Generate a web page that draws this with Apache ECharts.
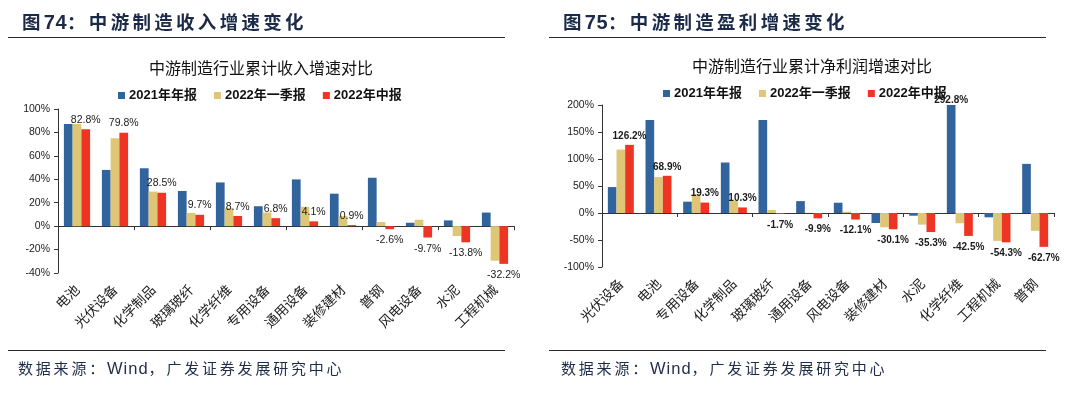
<!DOCTYPE html>
<html>
<head>
<meta charset="utf-8">
<script src="https://cdn.jsdelivr.net/npm/echarts@6/dist/echarts.min.js"></script>
<style>
  html, body { margin: 0; padding: 0; background: #fff; }
  #wrap { position: relative; width: 1080px; height: 393px; overflow: hidden; }
  #chart { position: absolute; left: 0; top: 0; width: 1080px; height: 393px; }
  .head { position: absolute; top: 9px; font-family: "Noto Sans CJK SC", sans-serif; font-weight: bold; font-size: 18.5px; letter-spacing: 3.3px; color: #1b2a49; line-height: 24px; white-space: nowrap; }
  .head .num { font-family: "Liberation Sans", Arial, sans-serif; font-size: 20px; letter-spacing: 0.5px; }
  .rule { position: absolute; height: 0; border-top: 1.5px solid #2a2a2a; }
  .src { position: absolute; top: 357px; font-family: "Noto Sans CJK SC", sans-serif; font-size: 15px; letter-spacing: 2.8px; color: #1f2d4a; line-height: 22px; white-space: nowrap; }
  .src .en { font-family: "Liberation Sans", Arial, sans-serif; font-size: 16.5px; letter-spacing: 1px; }
</style>
</head>
<body>
<div id="wrap">
  <div id="chart"></div>
  <div class="head" style="left:22px;">图<span class="num">74</span>：中游制造收入增速变化</div>
  <div class="head" style="left:563px;">图<span class="num">75</span>：中游制造盈利增速变化</div>
  <div class="rule" style="left:8px; width:497px; top:37px;"></div>
  <div class="rule" style="left:549px; width:497px; top:37px;"></div>
  <div class="rule" style="left:8px; width:497px; top:350px;"></div>
  <div class="rule" style="left:549px; width:497px; top:350px;"></div>
  <div class="src" style="left:18px;">数据来源：<span class="en">Wind</span>，广发证券发展研究中心</div>
  <div class="src" style="left:561px;">数据来源：<span class="en">Wind</span>，广发证券发展研究中心</div>
</div>
<script>
// ---- Data: left chart (revenue growth, %) ----
const revTitle = '中游制造行业累计收入增速对比';
const revCats = ['电池', '光伏设备', '化学制品', '玻璃玻纤', '化学纤维', '专用设备', '通用设备', '装修建材', '普钢', '风电设备', '水泥', '工程机械'];
const rev2021 = [87.3, 48.0, 49.4, 30.0, 37.3, 17.0, 39.9, 27.7, 41.3, 2.9, 4.9, 11.6];
const rev22Q1 = [87.3, 75.0, 29.5, 11.3, 15.3, 11.6, 16.5, 8.7, 3.5, 5.5, -8.4, -29.5];
const rev22H1 = [82.8, 79.8, 28.5, 9.7, 8.7, 6.8, 4.1, 0.9, -2.6, -9.7, -13.8, -32.2];
const revTicks = { min: -40, max: 100, interval: 20 };

// ---- Data: right chart (net profit growth, %) ----
const profTitle = '中游制造行业累计净利润增速对比';
const profCats = ['光伏设备', '电池', '专用设备', '化学制品', '玻璃玻纤', '通用设备', '风电设备', '装修建材', '水泥', '化学纤维', '工程机械', '普钢'];
const prof2021 = [48.0, 172.0, 21.0, 93.5, 172.0, 22.0, 19.0, -18.5, -5.0, 292.8, -8.0, 91.0];
const prof22Q1 = [117.5, 66.5, 34.5, 22.8, 5.5, 0.5, 2.5, -26.5, -21.5, -19.0, -51.7, -33.0];
const prof22H1 = [126.2, 68.9, 19.3, 10.3, -1.7, -9.9, -12.1, -30.1, -35.3, -42.5, -54.3, -62.7];
const profTicks = { min: -100, max: 200, interval: 50 };

const seriesNames = ['2021年年报', '2022年一季报', '2022年中报'];
const colors = ['#31639c', '#dfc677', '#ee3524'];

const NUM = '"Liberation Sans", Arial, "Noto Sans CJK SC", sans-serif';
const CJK = '"Noto Sans CJK SC", sans-serif';

const chart = echarts.init(document.getElementById('chart'), null, { renderer: 'canvas' });

const grids = [
  { left: 58, top: 109, width: 456, height: 164 },
  { left: 602, top: 105, width: 452, height: 162 }
];

function labelData(arr, yMax, showFn) {
  return arr.map((v, i) => {
    const shown = showFn(v, i);
    const clipped = v > yMax;
    return {
      value: Math.min(v, yMax),
      label: { show: shown, position: v >= 0 ? 'top' : 'bottom', distance: clipped ? 0 : (v >= 0 ? 4 : 6) }
    };
  });
}

function buildSeries(gi, arrs, ticks, bold) {
  const [a, b, c] = arrs;
  const labelStyle = {
    fontFamily: NUM, fontSize: bold ? 10 : 10.5, fontWeight: bold ? 'bold' : 'normal', color: '#1a1a1a'
  };
  const mk = (name, arr, color, showFn) => ({
    name, type: 'bar', xAxisIndex: gi * 2, yAxisIndex: gi,
    barGap: '0%', barCategoryGap: '31%',
    itemStyle: { color },
    label: Object.assign({ formatter: p => arr[p.dataIndex].toFixed(1) + '%' }, labelStyle),
    data: labelData(arr, ticks.max, showFn),
    animation: false
  });
  return [
    mk(seriesNames[0], a, colors[0], (v) => v > ticks.max),
    mk(seriesNames[1], b, colors[1], () => false),
    mk(seriesNames[2], c, colors[2], () => true)
  ];
}

function xAxes(gi, cats) {
  return [
    {
      gridIndex: gi, type: 'category', data: cats, position: 'bottom',
      axisLine: { show: false, onZero: false }, axisTick: { show: false },
      axisLabel: { rotate: 45, margin: 14, fontFamily: CJK, fontSize: 13.5, color: '#1a1a1a', interval: 0 }
    },
    {
      gridIndex: gi, type: 'category', data: cats, position: 'bottom',
      axisLine: { show: true, onZero: true, lineStyle: { color: '#333', width: 1 } },
      axisTick: { show: true, length: 4, inside: false, lineStyle: { color: '#333' } },
      axisLabel: { show: false }
    }
  ];
}

function yAxis(gi, ticks) {
  return {
    gridIndex: gi, type: 'value', min: ticks.min, max: ticks.max, interval: ticks.interval,
    axisLine: { show: true, lineStyle: { color: '#333', width: 1 } },
    axisTick: { show: true, length: 4, lineStyle: { color: '#333' } },
    splitLine: { show: false },
    axisLabel: { formatter: '{value}%', fontFamily: NUM, fontSize: 10.5, color: '#1a1a1a', margin: 8 }
  };
}

const legendCommon = {
  data: seriesNames.map((n, i) => ({ name: n, itemStyle: { color: colors[i] } })),
  icon: 'rect', itemWidth: 7, itemHeight: 7, itemGap: 17,
  textStyle: { fontFamily: NUM, fontSize: 13, fontWeight: 'bold', color: '#111', padding: [0, 0, 0, -1] },
  selectedMode: false
};

const option = {
  animation: false,
  backgroundColor: '#fff',
  color: colors,
  grid: grids,
  legend: [
    Object.assign({ left: 113, top: 84 }, legendCommon),
    Object.assign({ left: 658, top: 82 }, legendCommon)
  ],
  graphic: [
    { type: 'text', x: 261, y: 68, style: { text: revTitle, font: '16px ' + CJK, fill: '#111', textAlign: 'center', textVerticalAlign: 'middle' } },
    { type: 'text', x: 812, y: 66, style: { text: profTitle, font: '16px ' + CJK, fill: '#111', textAlign: 'center', textVerticalAlign: 'middle' } }
  ],
  xAxis: [].concat(xAxes(0, revCats), xAxes(1, profCats)),
  yAxis: [yAxis(0, revTicks), yAxis(1, profTicks)],
  series: [].concat(
    buildSeries(0, [rev2021, rev22Q1, rev22H1], revTicks, false),
    buildSeries(1, [prof2021, prof22Q1, prof22H1], profTicks, true)
  )
};

chart.setOption(option);
</script>
</body>
</html>
